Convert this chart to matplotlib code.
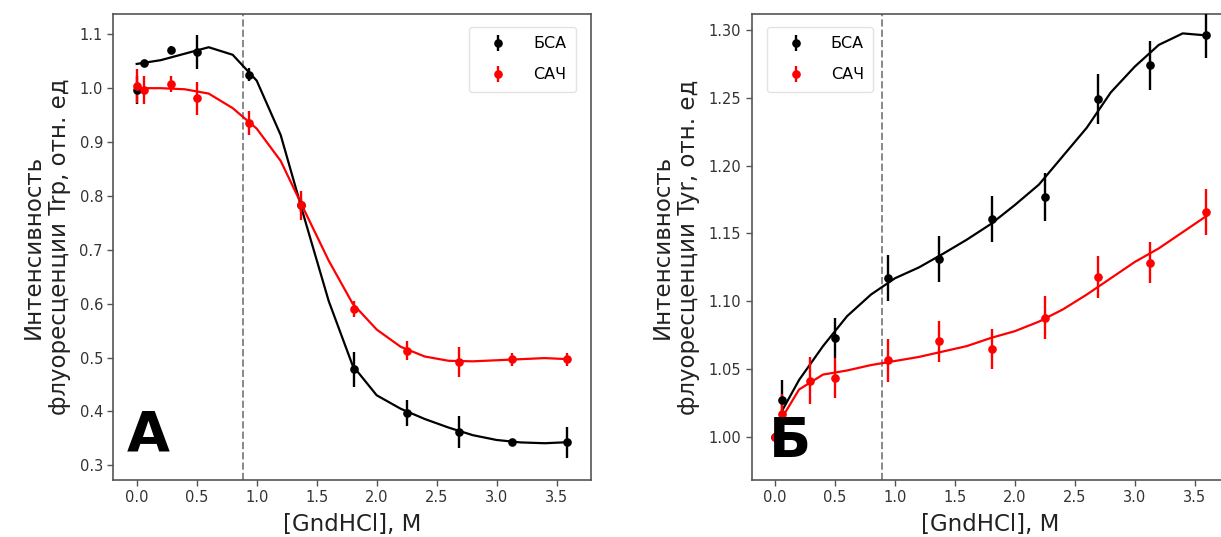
import matplotlib
matplotlib.use("Agg")
import matplotlib.pyplot as plt

# ---------------- data ----------------
conc = [0.0, 0.06, 0.29, 0.5, 0.94, 1.37, 1.81, 2.25, 2.69, 3.13, 3.59]

trp_bsa = [0.997, 1.046, 1.071, 1.067, 1.025, 0.783, 0.478, 0.397, 0.362, 0.343, 0.343]
trp_bsa_err = [0.026, 0.007, 0.008, 0.032, 0.012, 0.012, 0.032, 0.024, 0.029, 0.005, 0.029]
trp_hsa = [1.004, 0.997, 1.008, 0.981, 0.936, 0.783, 0.590, 0.513, 0.492, 0.497, 0.497]
trp_hsa_err = [0.032, 0.026, 0.015, 0.030, 0.022, 0.027, 0.015, 0.017, 0.028, 0.012, 0.012]

fit_x = [0.0, 0.2, 0.4, 0.6, 0.8, 1.0, 1.2, 1.4, 1.6, 1.8, 2.0, 2.2, 2.4, 2.6, 2.8, 3.0, 3.2, 3.4, 3.6]
trp_bsa_fit = [1.045, 1.052, 1.064, 1.076, 1.062, 1.014, 0.913, 0.757, 0.605, 0.485, 0.43, 0.405,
               0.386, 0.37, 0.356, 0.347, 0.3425, 0.341, 0.343]
trp_hsa_fit = [1.0, 1.0, 0.998, 0.99, 0.963, 0.925, 0.865, 0.772, 0.68, 0.60, 0.552, 0.52,
               0.502, 0.494, 0.493, 0.495, 0.497, 0.499, 0.497]

tyr_bsa_x = [0.0, 0.06, 0.5, 0.94, 1.37, 1.81, 2.25, 2.69, 3.13, 3.59]
tyr_bsa = [1.0, 1.027, 1.073, 1.117, 1.131, 1.161, 1.177, 1.249, 1.274, 1.296]
tyr_bsa_err = [0.003, 0.015, 0.015, 0.017, 0.017, 0.017, 0.0175, 0.0185, 0.018, 0.017]
tyr_hsa = [1.0, 1.017, 1.0416, 1.0434, 1.0565, 1.0706, 1.0648, 1.088, 1.118, 1.1286, 1.1656]
tyr_hsa_err = [0.003, 0.015, 0.017, 0.015, 0.016, 0.015, 0.015, 0.016, 0.0155, 0.015, 0.017]

fit_x2 = [0.0, 0.05, 0.2, 0.4, 0.6, 0.8, 1.0, 1.2, 1.4, 1.6, 1.8, 2.0, 2.2, 2.4, 2.6, 2.8, 3.0, 3.2, 3.4, 3.6]
tyr_bsa_fit = [1.0, 1.018, 1.042, 1.067, 1.089, 1.105, 1.117, 1.125, 1.135, 1.1455, 1.157, 1.171,
               1.186, 1.207, 1.228, 1.254, 1.273, 1.289, 1.2975, 1.296]
tyr_hsa_fit = [1.0, 1.013, 1.035, 1.046, 1.049, 1.053, 1.056, 1.059, 1.063, 1.067, 1.073, 1.078,
               1.085, 1.094, 1.105, 1.117, 1.129, 1.139, 1.151, 1.163]

labels = ["БСА", "САЧ"]
xticks = [0.0, 0.5, 1.0, 1.5, 2.0, 2.5, 3.0, 3.5]
xlabel = "[GndHCl], M"
ylabel_a = "Интенсивность\nфлуоресценции Trp, отн. ед"
ylabel_b = "Интенсивность\nфлуоресценции Tyr, отн. ед"
vline_x = 0.89

# ---------------- figure ----------------
W, H = 1221, 537
fig = plt.figure(figsize=(W / 100, H / 100), dpi=100)

def px_axes(l, t, r, b):
    return fig.add_axes([l / W, 1 - b / H, (r - l) / W, (b - t) / H])

axA = px_axes(113.3, 14, 591, 479.7)
axB = px_axes(751.7, 14, 1229, 479.7)

def style(ax):
    for s in ax.spines.values():
        s.set_color("#555555")
        s.set_linewidth(1.2)
    ax.tick_params(labelsize=10.5, colors="#555555", labelcolor="#333333", width=1.0, length=4)

leg_kw = dict(fontsize=11.5, handlelength=2.4, handletextpad=1.0, borderpad=0.6,
              labelspacing=1.0, framealpha=0.8, edgecolor="#dddddd")

# Panel A
axA.plot(fit_x, trp_bsa_fit, color="black", lw=1.6, zorder=2)
axA.plot(fit_x, trp_hsa_fit, color="red", lw=1.6, zorder=2)
axA.errorbar(conc, trp_bsa, yerr=trp_bsa_err, fmt="o", color="black", ms=5.2, elinewidth=1.7,
             label=labels[0], zorder=3)
axA.errorbar(conc, trp_hsa, yerr=trp_hsa_err, fmt="o", color="red", ms=5.2, elinewidth=1.7,
             label=labels[1], zorder=3)
axA.axvline(vline_x, color="#888888", ls="--", lw=1.4, zorder=1)
axA.set_xlim(-0.195, 3.786)
axA.set_ylim(0.2733, 1.1377)
axA.set_xticks(xticks)
axA.set_yticks([0.3, 0.4, 0.5, 0.6, 0.7, 0.8, 0.9, 1.0, 1.1])
axA.set_xlabel(xlabel, fontsize=16.5, color="#222222", labelpad=6)
axA.set_ylabel(ylabel_a, fontsize=16.5, color="#222222", labelpad=6)
axA.legend(loc="upper right", bbox_to_anchor=(0.985, 0.99), **leg_kw)
axA.text(0.028, 0.063, "А", transform=axA.transAxes, fontsize=40, fontweight="bold",
         ha="left", va="baseline", color="black")
style(axA)

# Panel B
axB.plot(fit_x2, tyr_bsa_fit, color="black", lw=1.6, zorder=2)
axB.plot(fit_x2, tyr_hsa_fit, color="red", lw=1.6, zorder=2)
axB.errorbar(tyr_bsa_x, tyr_bsa, yerr=tyr_bsa_err, fmt="o", color="black", ms=5.2, elinewidth=1.7,
             label=labels[0], zorder=3)
axB.errorbar(conc, tyr_hsa, yerr=tyr_hsa_err, fmt="o", color="red", ms=5.2, elinewidth=1.7,
             label=labels[1], zorder=3)
axB.axvline(vline_x, color="#888888", ls="--", lw=1.4, zorder=1)
axB.set_xlim(-0.195, 3.786)
axB.set_ylim(0.9685, 1.3118)
axB.set_xticks(xticks)
axB.set_yticks([1.00, 1.05, 1.10, 1.15, 1.20, 1.25, 1.30])
axB.set_yticklabels(["1.00", "1.05", "1.10", "1.15", "1.20", "1.25", "1.30"])
axB.set_xlabel(xlabel, fontsize=16.5, color="#222222", labelpad=6)
axB.set_ylabel(ylabel_b, fontsize=16.5, color="#222222", labelpad=6)
axB.legend(loc="upper left", bbox_to_anchor=(0.015, 0.99), **leg_kw)
axB.text(0.037, 0.049, "Б", transform=axB.transAxes, fontsize=40, fontweight="bold",
         ha="left", va="baseline", color="black", zorder=5)
style(axB)

fig.savefig("out.png", dpi=100)
